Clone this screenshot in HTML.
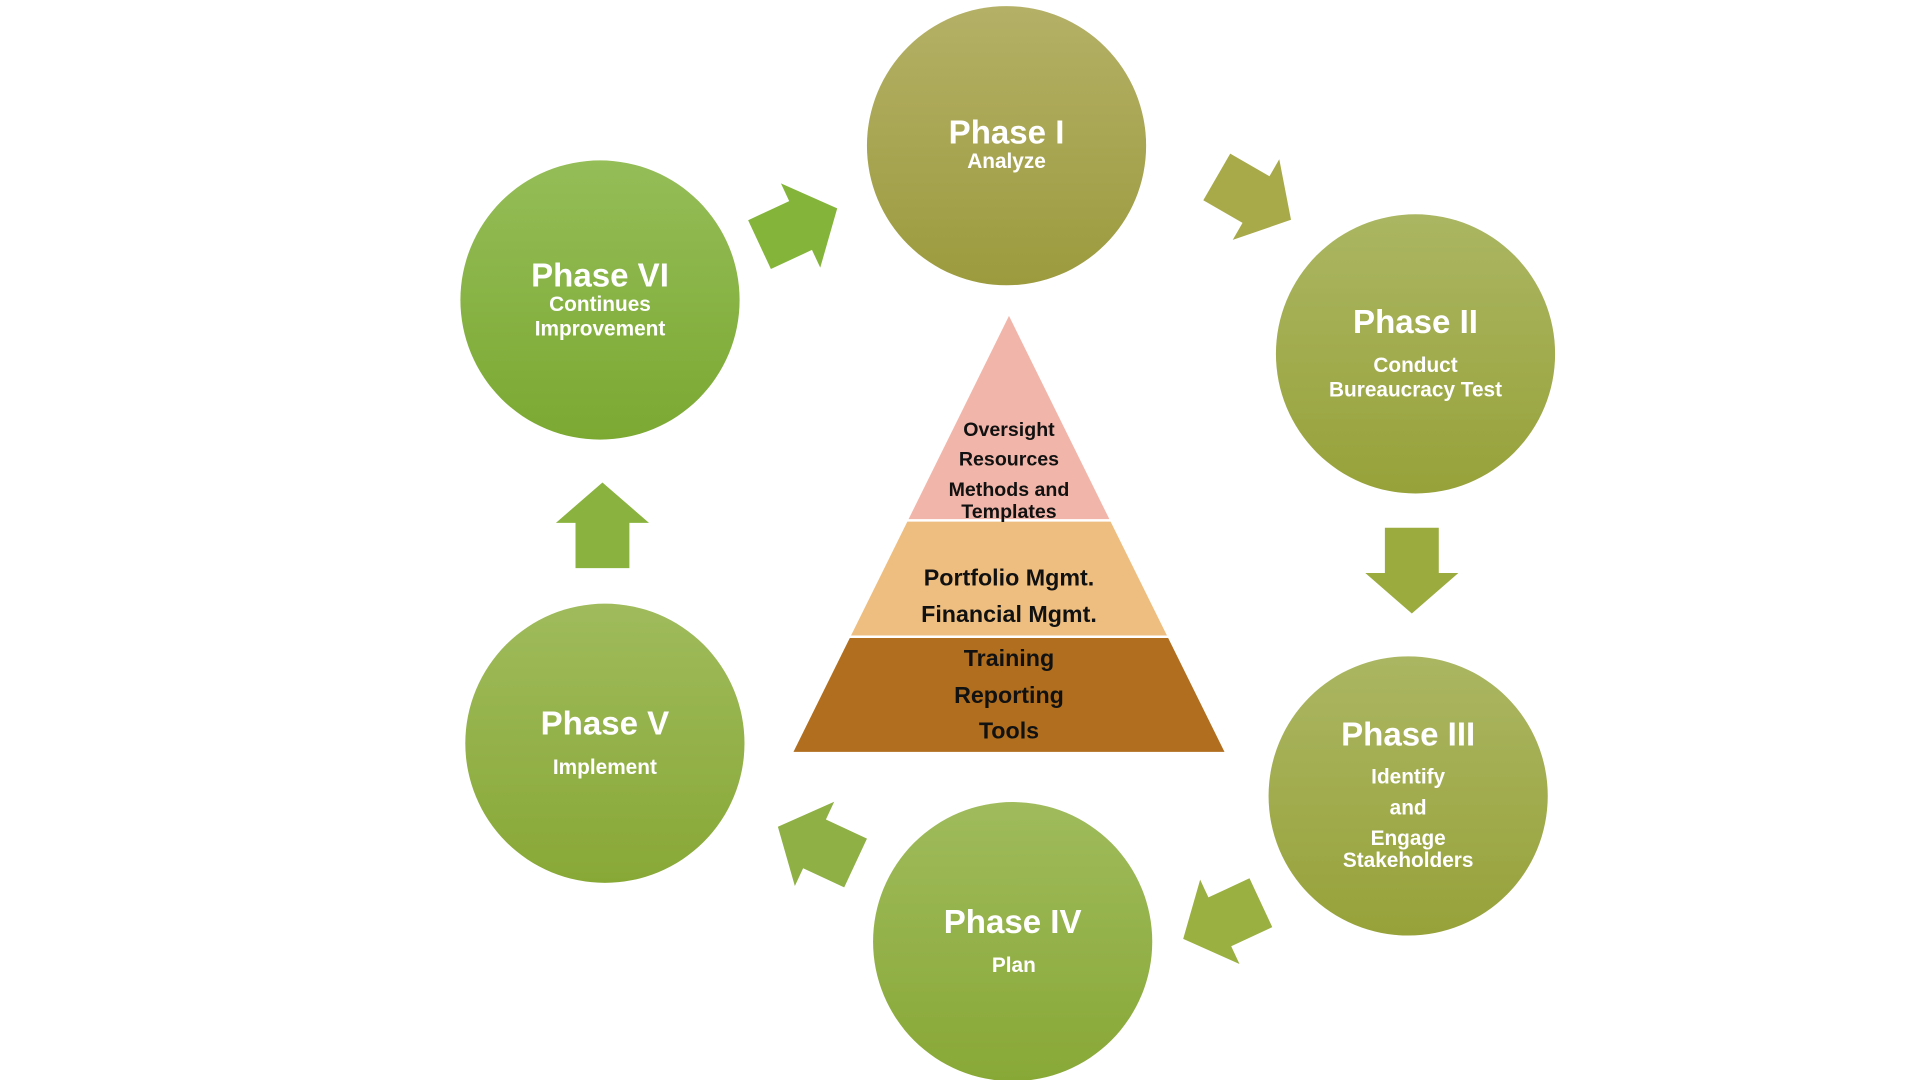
<!DOCTYPE html>
<html><head><meta charset="utf-8"><style>
html,body{margin:0;padding:0;background:#fff;width:1920px;height:1080px;overflow:hidden}
svg{display:block}
text{font-family:"Liberation Sans","DejaVu Sans",sans-serif;font-weight:bold;text-anchor:middle}
.w{fill:#fff}
.t{font-size:27px}
.s{font-size:17px}
.b{fill:#111}
</style></head><body>
<svg width="1920" height="1080" viewBox="0 0 1568 882" xmlns="http://www.w3.org/2000/svg">
<defs>
<linearGradient id="ol" x1="0" y1="0" x2="0" y2="1"><stop offset="0" stop-color="#b4b066"/><stop offset="1" stop-color="#9c9b3e"/></linearGradient>
<linearGradient id="ol2" x1="0" y1="0" x2="0" y2="1"><stop offset="0" stop-color="#abb662"/><stop offset="1" stop-color="#97a23a"/></linearGradient>
<linearGradient id="gr" x1="0" y1="0" x2="0" y2="1"><stop offset="0" stop-color="#95bd58"/><stop offset="1" stop-color="#7ba932"/></linearGradient>
<linearGradient id="gr2" x1="0" y1="0" x2="0" y2="1"><stop offset="0" stop-color="#9fbb5c"/><stop offset="1" stop-color="#88a836"/></linearGradient>
<g id="arr"><polygon points="-35,-22 2,-22 2,-38 35,0 2,38 2,22 -35,22"/></g>
</defs>
<circle cx="822" cy="119" r="114" fill="url(#ol)"/>
<circle cx="1156" cy="289" r="114" fill="url(#ol2)"/>
<circle cx="1150" cy="650" r="114" fill="url(#ol2)"/>
<circle cx="827" cy="769" r="114" fill="url(#gr2)"/>
<circle cx="494" cy="607" r="114" fill="url(#gr2)"/>
<circle cx="490" cy="245" r="114" fill="url(#gr)"/>

<use href="#arr" fill="#84b53a" transform="translate(652,185) rotate(-25)"/>
<use href="#arr" fill="#a8aa4a" transform="translate(1024,162) rotate(30)"/>
<use href="#arr" fill="#9bab3e" transform="translate(1153,466) rotate(90)"/>
<use href="#arr" fill="#9ab040" transform="translate(998,752) rotate(155)"/>
<use href="#arr" fill="#8eb044" transform="translate(667,690) rotate(205)"/>
<use href="#arr" fill="#8ab23e" transform="translate(492,429) rotate(-90)"/>

<polygon points="824,258 742,424 906,424" fill="#f2b5aa"/>
<polygon points="741,426 907,426 953,519 695,519" fill="#eebe80"/>
<polygon points="694,521 954,521 1000,614 648,614" fill="#b06e1e"/>

<text class="w t" x="822" y="117">Phase I</text>
<text class="w s" x="822" y="137">Analyze</text>
<text class="w t" x="1156" y="272">Phase II</text>
<text class="w s" x="1156" y="304">Conduct</text>
<text class="w s" x="1156" y="324">Bureaucracy Test</text>
<text class="w t" x="1150" y="609">Phase III</text>
<text class="w s" x="1150" y="640">Identify</text>
<text class="w s" x="1150" y="665">and</text>
<text class="w s" x="1150" y="690">Engage</text>
<text class="w s" x="1150" y="708">Stakeholders</text>
<text class="w t" x="827" y="762">Phase IV</text>
<text class="w s" x="828" y="794">Plan</text>
<text class="w t" x="494" y="600">Phase V</text>
<text class="w s" x="494" y="632">Implement</text>
<text class="w t" x="490" y="234">Phase VI</text>
<text class="w s" x="490" y="254">Continues</text>
<text class="w s" x="490" y="274">Improvement</text>

<text class="b" font-size="16" x="824" y="356">Oversight</text>
<text class="b" font-size="16" x="824" y="380">Resources</text>
<text class="b" font-size="16" x="824" y="405">Methods and</text>
<text class="b" font-size="16" x="824" y="423">Templates</text>
<text class="b" font-size="19" x="824" y="478">Portfolio Mgmt.</text>
<text class="b" font-size="19" x="824" y="508">Financial Mgmt.</text>
<text class="b" font-size="19" x="824" y="544">Training</text>
<text class="b" font-size="19" x="824" y="574">Reporting</text>
<text class="b" font-size="19" x="824" y="603">Tools</text>
</svg>
</body></html>
